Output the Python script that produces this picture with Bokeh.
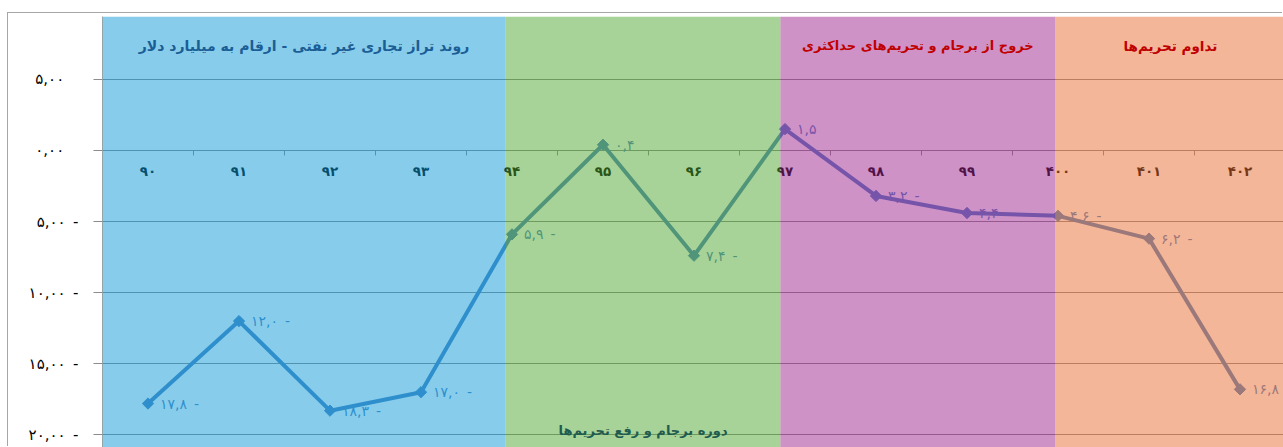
import numpy as np
from bokeh.plotting import figure
from bokeh.models import Range1d, BoxAnnotation, Label, FixedTicker, Spacer
from bokeh.layouts import column, row
from bokeh.embed import file_html
from bokeh.resources import INLINE
from bokeh.core.properties import value

# ---------------- data ----------------
years = ["۹۰", "۹۱", "۹۲", "۹۳", "۹۴", "۹۵", "۹۶", "۹۷", "۹۸", "۹۹", "۴۰۰", "۴۰۱", "۴۰۲"]
balance = [-17.8, -12.0, -18.3, -17.0, -5.9, 0.4, -7.4, 1.5, -3.2, -4.4, -4.6, -6.2, -16.8]
y_ticks = [5, 0, -5, -10, -15, -20]
band_edges = [-0.5, 3.93, 6.95, 9.97, 12.5]
band_colors = ["#0F9BD7", "#51A731", "#9D258F", "#E76D31"]
band_titles = [
    "روند تراز تجاری غیر نفتی - ارقام به میلیارد دلار",
    "دوره برجام و رفع تحریم‌ها",
    "خروج از برجام و تحریم‌های حداکثری",
    "تداوم تحریم‌ها",
]
title_colors = ["#1B5E96", "#1F5C4F", "#C00000", "#C00000"]
title_sizes = ["14px", "13px", "13px", "13.5px"]
title_at_top = [True, False, True, True]

FONT = "DejaVu Sans"
LINE_COLOR = "#4F83C3"
GRID_COLOR = "#8C8C8C"

FA = str.maketrans("0123456789.", "۰۱۲۳۴۵۶۷۸۹,")


def fa(v, nd):
    s = f"{abs(v):.{nd}f}".translate(FA)
    return s + "\u2002-" if v < 0 else s


xs = list(range(len(years)))
labels = [fa(v, 1) for v in balance]

p = figure(
    width=1275, height=434,
    x_range=Range1d(-0.5, 12.478), y_range=Range1d(-20.89, 9.42),
    output_backend="svg", toolbar_location=None, x_axis_location=None,
    min_border_left=94, min_border_right=0, min_border_top=3, min_border_bottom=0,
)
p.outline_line_color = None
p.background_fill_color = "white"
p.border_fill_color = "white"
p.styles = {"box-shadow": "-1px -1px 0 0 #A6A6A6"}

# y axis
p.yaxis.ticker = FixedTicker(ticks=y_ticks)
p.yaxis.major_label_overrides = {t: (fa(t, 2) if t < 0 else fa(t, 2) + "\u00a0\u00a0\u00a0") for t in y_ticks}
p.yaxis.major_tick_out = 9
p.yaxis.major_tick_in = 0
p.yaxis.minor_tick_line_color = None
p.yaxis.axis_line_color = "#A6A6A6"
p.yaxis.major_tick_line_color = GRID_COLOR
p.yaxis.major_label_standoff = 15
p.yaxis.major_label_text_font = FONT
p.yaxis.major_label_text_font_size = "15px"
p.yaxis.major_label_text_color = "black"

p.xgrid.visible = False
p.ygrid.ticker = FixedTicker(ticks=y_ticks)
p.ygrid.grid_line_color = GRID_COLOR
p.ygrid.grid_line_width = 1

# category ticks on the zero line and category labels
mids = [x + 0.5 for x in xs[:-1]]
p.segment(x0=mids, y0=[0] * len(mids), x1=mids, y1=[-0.35] * len(mids), line_color=GRID_COLOR, line_width=1)
p.text(x=xs, y=[0] * len(xs), text=years, y_offset=21, text_align="center", text_baseline="middle",
       text_font=value(FONT), text_font_size="13.5px", text_font_style="bold", text_color="black")

# line + markers + data labels
p.line(xs, balance, line_color=LINE_COLOR, line_width=4, line_join="round")
p.scatter(xs, balance, marker="square", angle=np.pi / 4, size=8, fill_color=LINE_COLOR, line_color=LINE_COLOR)
p.text(x=xs, y=balance, text=labels, x_offset=12, text_align="left", text_baseline="middle",
       text_font=value(FONT), text_font_size="14px", text_color=LINE_COLOR)

# translucent period bands over everything
for i, c in enumerate(band_colors):
    p.add_layout(BoxAnnotation(left=band_edges[i], right=band_edges[i + 1], fill_color=c, fill_alpha=0.5,
                               line_color=None))

# period titles
for i, t in enumerate(band_titles):
    mid = (band_edges[i] + band_edges[i + 1]) / 2
    p.add_layout(Label(x=mid, y=7.38 if title_at_top[i] else -19.7, text=t, text_align="center",
                       text_baseline="middle", text_font=FONT, text_font_size=title_sizes[i],
                       text_font_style="bold", text_color=title_colors[i]))

layout = row(Spacer(width=8, height=447), column(Spacer(width=1275, height=13), p))
html = file_html(layout, INLINE)
html = html.replace("<body>", '<body style="background:#F2F2F2">', 1)
open("out.html", "w").write(html)
